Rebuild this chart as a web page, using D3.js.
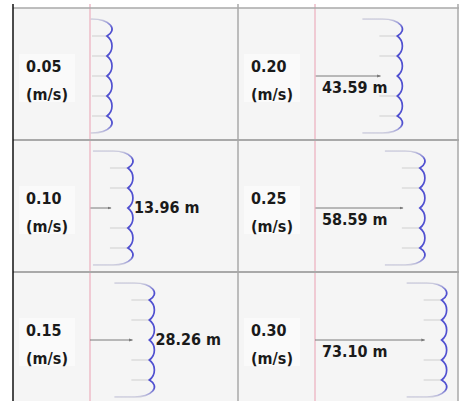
<!DOCTYPE html>
<html>
<head>
<meta charset="utf-8">
<script src="https://cdn.jsdelivr.net/npm/d3@7/dist/d3.min.js"></script>
<style>
  html, body { margin: 0; padding: 0; background: #fff; }
  svg { display: block; }
  .lbl { font-family: "DejaVu Sans Condensed", "DejaVu Sans", sans-serif; font-stretch: condensed; font-weight: bold; font-size: 16px; fill: #1a1a1a; }
</style>
</head>
<body>
<div id="chart"></div>
<script>
// flow velocity per panel and the distance the wavefront travelled
const velocities = ['0.05', '0.10', '0.15', '0.20', '0.25', '0.30'];
const distances = [0, 13.96, 28.26, 43.59, 58.59, 73.10];
const unitLabel = '(m/s)';
const cuspOffsets = [-40, -20, 0, 20, 40];

const width = 459, height = 401;
const colEdges = [13, 238, 458];
const svg = d3.select('#chart').append('svg').attr('width', width).attr('height', height);

const row = d3.scaleBand().domain([0, 1, 2]).range([8, 404]);
const dist = d3.scaleLinear().domain([0, 80]).range([0, 120]);
const fmt = d3.format('.2f');

const defs = svg.append('defs');
const grad = defs.append('linearGradient').attr('id', 'waveGrad').attr('x1', 0).attr('y1', 0).attr('x2', 0).attr('y2', 1);
grad.append('stop').attr('offset', '0%').attr('stop-color', '#d2d2de');
grad.append('stop').attr('offset', '8%').attr('stop-color', '#5050d0');
grad.append('stop').attr('offset', '92%').attr('stop-color', '#5050d0');
grad.append('stop').attr('offset', '100%').attr('stop-color', '#d2d2de');
defs.append('marker').attr('id', 'head').attr('viewBox', '0 0 6 6').attr('refX', 5).attr('refY', 3)
  .attr('markerWidth', 4).attr('markerHeight', 4).attr('orient', 'auto')
  .append('path').attr('d', 'M0,0.8L6,3L0,5.2Z').attr('fill', '#777');

// cell background
svg.append('rect').attr('x', colEdges[0]).attr('y', 8).attr('width', colEdges[2] - colEdges[0]).attr('height', height - 8).attr('fill', '#f5f5f5');

const cells = velocities.map((v, i) => ({v, d: distances[i], col: Math.floor(i / 3), row: i % 3}));

const cell = svg.selectAll('g.cell').data(cells).enter().append('g').attr('class', 'cell');

cell.each(function (c) {
  const g = d3.select(this);
  const left = colEdges[c.col];
  const cy = row(c.row) + row.bandwidth() / 2 + 2;
  const px = left + 77;
  const cx = px + 17 + dist(c.d);

  // label box
  g.append('rect').attr('x', left + 6).attr('y', cy - 22).attr('width', 56).attr('height', 48).attr('fill', '#fafafa');
  g.append('text').attr('class', 'lbl').attr('x', left + 13).attr('y', cy - 4).text(c.v);
  g.append('text').attr('class', 'lbl').attr('x', left + 13).attr('y', cy + 24).text(unitLabel);

  // source line
  g.append('line').attr('x1', px).attr('x2', px).attr('y1', 4).attr('y2', height)
    .attr('stroke', '#efc4cf').attr('stroke-width', 1);

  // rays into the cusps
  g.selectAll('line.ray').data(cuspOffsets.filter(o => !(o === 0 && c.d > 0))).enter().append('line')
    .attr('class', 'ray')
    .attr('x1', Math.max(px + 2, cx - 18)).attr('x2', cx)
    .attr('y1', o => cy + o).attr('y2', o => cy + o)
    .attr('stroke', '#cfcfcf').attr('stroke-width', 1);

  // wavefront
  const yTop = cy + cuspOffsets[0] - 17;
  const yBot = cy + cuspOffsets[cuspOffsets.length - 1] + 17;
  const tail = Math.max(0, Math.min(20, cx - 15 - px));
  let s = `M${cx - 15 - tail},${yTop}L${cx - 15},${yTop}A20,10.2 0 0 1 ${cx},${cy + cuspOffsets[0]}`;
  for (let k = 1; k < cuspOffsets.length; k++) {
    s += `A12.5,12.5 0 0 1 ${cx},${cy + cuspOffsets[k]}`;
  }
  s += `A20,10.2 0 0 1 ${cx - 15},${yBot}L${cx - 15 - tail},${yBot}`;
  g.append('path').attr('d', s).attr('fill', 'none').attr('stroke', 'url(#waveGrad)').attr('stroke-width', 1.7);

  // travel arrow + distance
  if (c.d > 0) {
    const ax = px + dist(c.d);
    g.append('line').attr('x1', px).attr('x2', ax).attr('y1', cy).attr('y2', cy)
      .attr('stroke', '#7a7a7a').attr('stroke-width', 1).attr('marker-end', 'url(#head)');
    const txt = fmt(c.d) + ' m';
    if (dist(c.d) > 60) {
      g.append('text').attr('class', 'lbl').attr('x', px + 7).attr('y', cy + 17).text(txt);
    } else {
      g.append('text').attr('class', 'lbl').attr('x', cx + 6).attr('y', cy + 5).text(txt);
    }
  }
});

// grid
const grid = svg.append('g').attr('stroke', '#a9a9a9');
grid.append('line').attr('x1', colEdges[0]).attr('x2', width).attr('y1', 8).attr('y2', 8).attr('stroke-width', 1.5);
[1, 2].forEach(r => {
  grid.append('line').attr('x1', colEdges[0]).attr('x2', width).attr('y1', row(r)).attr('y2', row(r)).attr('stroke-width', 2);
});
grid.append('line').attr('x1', colEdges[1]).attr('x2', colEdges[1]).attr('y1', 4).attr('y2', height).attr('stroke-width', 1.5);
grid.append('line').attr('x1', colEdges[2]).attr('x2', colEdges[2]).attr('y1', 4).attr('y2', height).attr('stroke-width', 1.5);
svg.append('line').attr('x1', colEdges[0]).attr('x2', colEdges[0]).attr('y1', 4).attr('y2', height)
  .attr('stroke', '#111').attr('stroke-width', 1.5);
</script>
</body>
</html>
